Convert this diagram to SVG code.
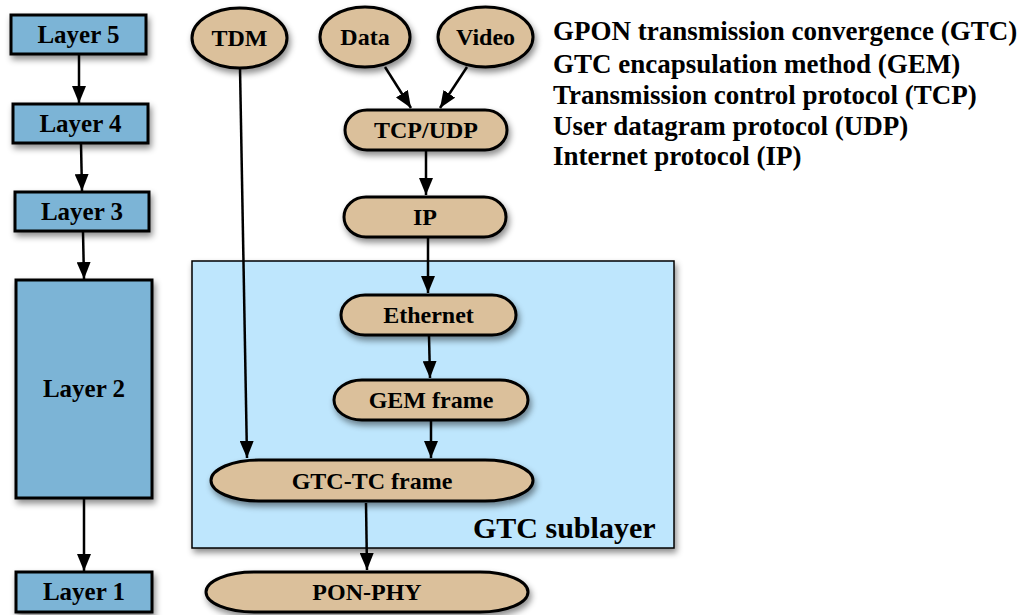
<svg xmlns="http://www.w3.org/2000/svg" width="1025" height="615" viewBox="0 0 1025 615">
  <defs>
    <filter id="shadow" x="-20%" y="-20%" width="150%" height="160%">
      <feDropShadow dx="2" dy="4" stdDeviation="3" flood-color="#000" flood-opacity="0.45"/>
    </filter>
    <marker id="arrow" markerUnits="userSpaceOnUse" markerWidth="18" markerHeight="14" refX="17" refY="7" orient="auto">
      <path d="M0,0 L17,7 L0,14 z" fill="#000"/>
    </marker>
    <style>
      .layer { fill: #7bb4d6; stroke: #000; stroke-width: 3; filter: url(#shadow); }
      .proto { fill: #dbc09b; stroke: #000; stroke-width: 3; filter: url(#shadow); }
      .sub { fill: #bee6fd; stroke: #000; stroke-width: 1.5; filter: url(#shadow); }
      .lbl { font-family: "Liberation Serif", "Times New Roman", serif; font-weight: bold; font-size: 24px; fill: #000; }
      .big { font-size: 25px; }
      .key { font-size: 27px; }
      .mid { text-anchor: middle; }
      .edge { stroke: #000; stroke-width: 2.5; fill: none; marker-end: url(#arrow); }
    </style>
  </defs>

  <rect width="1025" height="615" fill="#fff"/>

  <!-- GTC sublayer region -->
  <g id="gtc-sublayer">
    <rect class="sub" x="192" y="261" width="482" height="287"/>
    <text class="lbl" x="473" y="538" style="font-size:30px">GTC sublayer</text>
  </g>

  <!-- OSI-style layer stack -->
  <g id="layer5">
    <rect class="layer" x="11" y="15" width="135" height="39"/>
    <text class="lbl big mid" x="78.5" y="43">Layer 5</text>
  </g>
  <g id="layer4">
    <rect class="layer" x="13" y="104" width="135" height="39"/>
    <text class="lbl big mid" x="80.5" y="132">Layer 4</text>
  </g>
  <g id="layer3">
    <rect class="layer" x="15" y="192" width="134" height="39"/>
    <text class="lbl big mid" x="82" y="220">Layer 3</text>
  </g>
  <g id="layer2">
    <rect class="layer" x="16" y="280" width="136" height="218"/>
    <text class="lbl big mid" x="84" y="397">Layer 2</text>
  </g>
  <g id="layer1">
    <rect class="layer" x="16" y="572" width="136" height="40"/>
    <text class="lbl big mid" x="84" y="600">Layer 1</text>
  </g>

  <!-- Protocol nodes -->
  <g id="tdm">
    <ellipse class="proto" cx="239.5" cy="38" rx="47.5" ry="30"/>
    <text class="lbl mid" x="239.5" y="46">TDM</text>
  </g>
  <g id="data">
    <ellipse class="proto" cx="365" cy="37" rx="45" ry="30"/>
    <text class="lbl mid" x="365" y="45">Data</text>
  </g>
  <g id="video">
    <ellipse class="proto" cx="485.5" cy="37" rx="47.5" ry="30"/>
    <text class="lbl mid" x="485.5" y="45">Video</text>
  </g>
  <g id="tcp-udp">
    <rect class="proto" x="345" y="110" width="162" height="40" rx="22" ry="20"/>
    <text class="lbl mid" x="426" y="138">TCP/UDP</text>
  </g>
  <g id="ip">
    <rect class="proto" x="344" y="197" width="162" height="40" rx="22" ry="20"/>
    <text class="lbl mid" x="425" y="225">IP</text>
  </g>
  <g id="ethernet">
    <rect class="proto" x="341" y="295" width="175" height="40" rx="24" ry="20"/>
    <text class="lbl mid" x="428.5" y="323">Ethernet</text>
  </g>
  <g id="gem-frame">
    <rect class="proto" x="334" y="380" width="194" height="40" rx="28" ry="20"/>
    <text class="lbl mid" x="431" y="408">GEM frame</text>
  </g>
  <g id="gtc-tc-frame">
    <rect class="proto" x="211" y="460" width="322" height="41" rx="48" ry="20.5"/>
    <text class="lbl mid" x="372" y="489">GTC-TC frame</text>
  </g>
  <g id="pon-phy">
    <rect class="proto" x="206" y="572" width="322" height="40" rx="48" ry="20"/>
    <text class="lbl mid" x="367" y="600">PON-PHY</text>
  </g>

  <!-- Connectors -->
  <g id="connectors">
    <line class="edge" x1="79" y1="55" x2="79" y2="103"/>
    <line class="edge" x1="81" y1="144" x2="82" y2="191"/>
    <line class="edge" x1="83" y1="232" x2="84" y2="279"/>
    <line class="edge" x1="84" y1="499" x2="84" y2="571"/>
    <line class="edge" x1="240" y1="68" x2="247" y2="458"/>
    <line class="edge" x1="385" y1="67" x2="411" y2="108"/>
    <line class="edge" x1="467" y1="67" x2="440" y2="108"/>
    <line class="edge" x1="426" y1="151" x2="426" y2="195"/>
    <line class="edge" x1="428" y1="238" x2="428" y2="293"/>
    <line class="edge" x1="429" y1="336" x2="430" y2="378"/>
    <line class="edge" x1="431" y1="421" x2="431" y2="458"/>
    <line class="edge" x1="366" y1="503" x2="367" y2="570"/>
  </g>

  <!-- Acronym key -->
  <g id="legend" class="lbl key">
    <text x="553" y="40">GPON transmission convergence (GTC)</text>
    <text x="553" y="72.5">GTC encapsulation method (GEM)</text>
    <text x="553" y="104">Transmission control protocol (TCP)</text>
    <text x="553" y="135">User datagram protocol (UDP)</text>
    <text x="553" y="165">Internet protocol (IP)</text>
  </g>
</svg>
